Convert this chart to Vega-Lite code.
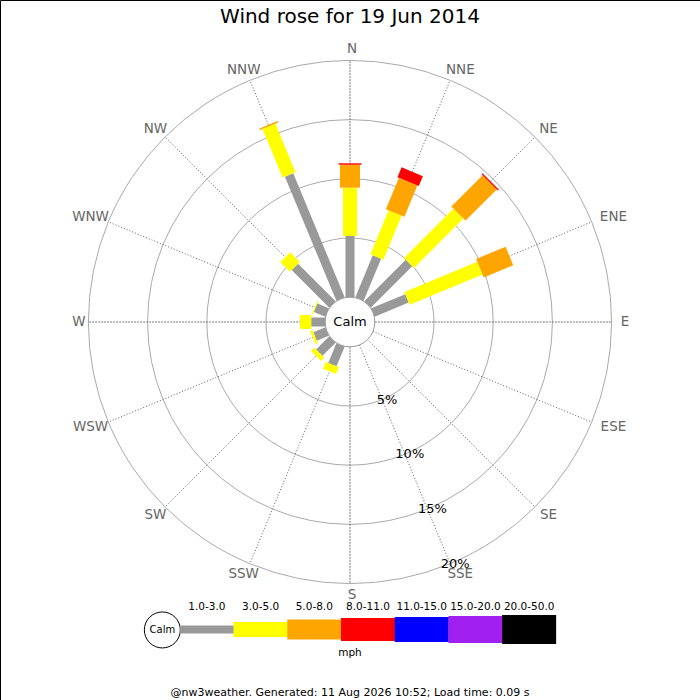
{
  "$schema": "https://vega.github.io/schema/vega-lite/v6.json",
  "description": "Wind rose for 19 Jun 2014, frequency (%) by direction and speed band (mph).",
  "width": 700,
  "height": 700,
  "autosize": {"type": "none"},
  "padding": 0,
  "datasets": {
    "dirs": [
      {"dir": "N", "deg": 0}, {"dir": "NNE", "deg": 22.5}, {"dir": "NE", "deg": 45}, {"dir": "ENE", "deg": 67.5},
      {"dir": "E", "deg": 90}, {"dir": "ESE", "deg": 112.5}, {"dir": "SE", "deg": 135}, {"dir": "SSE", "deg": 157.5},
      {"dir": "S", "deg": 180}, {"dir": "SSW", "deg": 202.5}, {"dir": "SW", "deg": 225}, {"dir": "WSW", "deg": 247.5},
      {"dir": "W", "deg": 270}, {"dir": "WNW", "deg": 292.5}, {"dir": "NW", "deg": 315}, {"dir": "NNW", "deg": 337.5}
    ],
    "winds": [
      {"dir": "N", "deg": 0, "band": "1.0-3.0", "pct": 5.17},
      {"dir": "N", "deg": 0, "band": "3.0-5.0", "pct": 4.08},
      {"dir": "N", "deg": 0, "band": "5.0-8.0", "pct": 1.94},
      {"dir": "N", "deg": 0, "band": "8.0-11.0", "pct": 0.12},
      {"dir": "NNE", "deg": 22.5, "band": "1.0-3.0", "pct": 3.85},
      {"dir": "NNE", "deg": 22.5, "band": "3.0-5.0", "pct": 4.02},
      {"dir": "NNE", "deg": 22.5, "band": "5.0-8.0", "pct": 2.86},
      {"dir": "NNE", "deg": 22.5, "band": "8.0-11.0", "pct": 0.91},
      {"dir": "NE", "deg": 45, "band": "1.0-3.0", "pct": 4.95},
      {"dir": "NE", "deg": 45, "band": "3.0-5.0", "pct": 5.91},
      {"dir": "NE", "deg": 45, "band": "5.0-8.0", "pct": 3.73},
      {"dir": "NE", "deg": 45, "band": "8.0-11.0", "pct": 0.11},
      {"dir": "ENE", "deg": 67.5, "band": "1.0-3.0", "pct": 3.12},
      {"dir": "ENE", "deg": 67.5, "band": "3.0-5.0", "pct": 6.67},
      {"dir": "ENE", "deg": 67.5, "band": "5.0-8.0", "pct": 2.69},
      {"dir": "SSW", "deg": 202.5, "band": "1.0-3.0", "pct": 1.8},
      {"dir": "SSW", "deg": 202.5, "band": "3.0-5.0", "pct": 0.62},
      {"dir": "SW", "deg": 225, "band": "1.0-3.0", "pct": 1.57},
      {"dir": "SW", "deg": 225, "band": "3.0-5.0", "pct": 0.4},
      {"dir": "WSW", "deg": 247.5, "band": "1.0-3.0", "pct": 1.1},
      {"dir": "WSW", "deg": 247.5, "band": "3.0-5.0", "pct": 0.22},
      {"dir": "W", "deg": 270, "band": "1.0-3.0", "pct": 1.18},
      {"dir": "W", "deg": 270, "band": "3.0-5.0", "pct": 0.95},
      {"dir": "WNW", "deg": 292.5, "band": "1.0-3.0", "pct": 1.05},
      {"dir": "WNW", "deg": 292.5, "band": "3.0-5.0", "pct": 0.09},
      {"dir": "NW", "deg": 315, "band": "1.0-3.0", "pct": 4.49},
      {"dir": "NW", "deg": 315, "band": "3.0-5.0", "pct": 1.16},
      {"dir": "NNW", "deg": 337.5, "band": "1.0-3.0", "pct": 11.35},
      {"dir": "NNW", "deg": 337.5, "band": "3.0-5.0", "pct": 4.45},
      {"dir": "NNW", "deg": 337.5, "band": "5.0-8.0", "pct": 0.13}
    ],
    "rings": [{"pct": 5}, {"pct": 10}, {"pct": 15}, {"pct": 20}],
    "bands": [
      {"band": "1.0-3.0"}, {"band": "3.0-5.0"}, {"band": "5.0-8.0"}, {"band": "8.0-11.0"},
      {"band": "11.0-15.0"}, {"band": "15.0-20.0"}, {"band": "20.0-50.0"}
    ]
  },
  "layer": [
    {
      "layer": [
        {
          "data": {"name": "rings"},
          "transform": [{"calculate": "datum.pct + 2.095", "as": "rr"}],
          "mark": {"type": "point", "shape": "circle", "filled": false, "color": "#aaaaaa", "strokeWidth": 1, "opacity": 1},
          "encoding": {
            "x": {"datum": 0, "type": "quantitative", "scale": {"domain": [-29.561, 29.561], "nice": false, "zero": false}},
            "y": {"datum": 0, "type": "quantitative", "scale": {"domain": [-31.926, 27.196], "nice": false, "zero": false}},
            "size": {"field": "rr", "type": "quantitative", "legend": null, "scale": {"type": "pow", "exponent": 2, "domain": [0, 29.561], "range": [0, 490000]}}
          }
        },
        {
          "data": {"name": "dirs"},
          "transform": [
            {"filter": "datum.deg % 90 !== 0"},
            {"calculate": "2.095 * sin(datum.deg * PI / 180)", "as": "xa"},
            {"calculate": "2.095 * cos(datum.deg * PI / 180)", "as": "ya"},
            {"calculate": "22.095 * sin(datum.deg * PI / 180)", "as": "xb"},
            {"calculate": "22.095 * cos(datum.deg * PI / 180)", "as": "yb"}
          ],
          "mark": {"type": "rule", "color": "#333333", "strokeWidth": 0.8, "strokeDash": [1, 2]},
          "encoding": {
            "x": {"field": "xa", "type": "quantitative"},
            "y": {"field": "ya", "type": "quantitative"},
            "x2": {"field": "xb"},
            "y2": {"field": "yb"}
          }
        },
        {
          "data": {"name": "dirs"},
          "transform": [
            {"filter": "datum.deg % 90 === 0"},
            {"calculate": "2.095 * sin(datum.deg * PI / 180)", "as": "xa"},
            {"calculate": "2.095 * cos(datum.deg * PI / 180)", "as": "ya"},
            {"calculate": "22.095 * sin(datum.deg * PI / 180)", "as": "xb"},
            {"calculate": "22.095 * cos(datum.deg * PI / 180)", "as": "yb"}
          ],
          "mark": {"type": "rule", "color": "#777777", "strokeWidth": 1, "strokeDash": [2, 1]},
          "encoding": {
            "x": {"field": "xa", "type": "quantitative"},
            "y": {"field": "ya", "type": "quantitative"},
            "x2": {"field": "xb"},
            "y2": {"field": "yb"}
          }
        },
        {
          "data": {"name": "winds"},
          "transform": [
            {"window": [{"op": "sum", "field": "pct", "as": "cum"}], "groupby": ["dir"]},
            {"calculate": "(datum.cum - datum.pct + 2.095) * sin(datum.deg * PI / 180)", "as": "xa"},
            {"calculate": "(datum.cum - datum.pct + 2.095) * cos(datum.deg * PI / 180)", "as": "ya"},
            {"calculate": "(datum.cum + 2.095) * sin(datum.deg * PI / 180)", "as": "xb"},
            {"calculate": "(datum.cum + 2.095) * cos(datum.deg * PI / 180)", "as": "yb"}
          ],
          "mark": {"type": "rule", "strokeCap": "butt"},
          "encoding": {
            "x": {"field": "xa", "type": "quantitative"},
            "y": {"field": "ya", "type": "quantitative"},
            "x2": {"field": "xb"},
            "y2": {"field": "yb"},
            "color": {
              "field": "band", "type": "nominal", "legend": null,
              "scale": {
                "domain": ["1.0-3.0", "3.0-5.0", "5.0-8.0", "8.0-11.0", "11.0-15.0", "15.0-20.0", "20.0-50.0"],
                "range": ["#999999", "#ffff00", "#ffa500", "#ff0000", "#0000ff", "#a020f0", "#000000"]
              }
            },
            "strokeWidth": {
              "field": "band", "type": "ordinal", "legend": null,
              "scale": {
                "type": "ordinal",
                "domain": ["1.0-3.0", "3.0-5.0", "5.0-8.0", "8.0-11.0", "11.0-15.0", "15.0-20.0", "20.0-50.0"],
                "range": [9, 14, 20, 23, 25, 27, 29]
              }
            }
          }
        },
        {
          "data": {"values": [{"rr": 2.095}]},
          "mark": {"type": "point", "shape": "circle", "filled": true, "fill": "white", "stroke": "#999999", "strokeWidth": 1, "opacity": 1},
          "encoding": {
            "x": {"datum": 0, "type": "quantitative"},
            "y": {"datum": 0, "type": "quantitative"},
            "size": {"field": "rr", "type": "quantitative", "legend": null}
          }
        },
        {
          "data": {"values": [{}]},
          "mark": {"type": "text", "text": "Calm", "fontSize": 13, "color": "#000000", "baseline": "middle"},
          "encoding": {
            "x": {"datum": 0, "type": "quantitative"},
            "y": {"datum": 0, "type": "quantitative"}
          }
        },
        {
          "data": {"name": "dirs"},
          "transform": [
            {"calculate": "(22.64 + 0.42 * length(datum.dir)) * sin(datum.deg * PI / 180)", "as": "lx"},
            {"calculate": "23.08 * cos(datum.deg * PI / 180)", "as": "ly"}
          ],
          "mark": {"type": "text", "fontSize": 13.5, "color": "#666666", "baseline": "middle", "dx": 2},
          "encoding": {
            "x": {"field": "lx", "type": "quantitative"},
            "y": {"field": "ly", "type": "quantitative"},
            "text": {"field": "dir"}
          }
        },
        {
          "data": {"name": "rings"},
          "transform": [
            {"calculate": "(datum.pct + 2.095) * sin(157.5 * PI / 180)", "as": "lx"},
            {"calculate": "(datum.pct + 2.095) * cos(157.5 * PI / 180)", "as": "ly"},
            {"calculate": "datum.pct + '%'", "as": "label"}
          ],
          "mark": {"type": "text", "fontSize": 13, "color": "#000000", "baseline": "middle", "dx": 5},
          "encoding": {
            "x": {"field": "lx", "type": "quantitative"},
            "y": {"field": "ly", "type": "quantitative"},
            "text": {"field": "label"}
          }
        },
        {
          "data": {"values": [{}]},
          "mark": {"type": "text", "text": "Wind rose for 19 Jun 2014", "fontSize": 20, "color": "#000000", "baseline": "middle"},
          "encoding": {
            "x": {"datum": 0, "type": "quantitative"},
            "y": {"datum": 25.76, "type": "quantitative"}
          }
        },
        {
          "data": {"values": [{}]},
          "mark": {"type": "point", "shape": "circle", "size": 1296, "filled": true, "fill": "white", "stroke": "#000000", "strokeWidth": 1, "opacity": 1},
          "encoding": {
            "x": {"datum": -15.85, "type": "quantitative"},
            "y": {"datum": -26.01, "type": "quantitative"}
          }
        },
        {
          "data": {"values": [{}]},
          "mark": {"type": "text", "text": "Calm", "fontSize": 10, "color": "#000000", "baseline": "middle"},
          "encoding": {
            "x": {"datum": -15.85, "type": "quantitative"},
            "y": {"datum": -26.01, "type": "quantitative"}
          }
        },
        {
          "data": {"values": [{}]},
          "mark": {"type": "text", "text": "mph", "fontSize": 10.5, "color": "#000000", "baseline": "middle"},
          "encoding": {
            "x": {"datum": 0, "type": "quantitative"},
            "y": {"datum": -27.96, "type": "quantitative"}
          }
        },
        {
          "data": {"values": [{}]},
          "mark": {"type": "text", "text": "@nw3weather. Generated: 11 Aug 2026 10:52; Load time: 0.09 s", "fontSize": 11, "color": "#000000", "baseline": "middle"},
          "encoding": {
            "x": {"datum": 0, "type": "quantitative"},
            "y": {"datum": -31.31, "type": "quantitative"}
          }
        }
      ]
    },
    {
      "data": {"name": "bands"},
      "layer": [
        {
          "mark": {"type": "tick", "orient": "vertical", "thickness": 54, "opacity": 1},
          "encoding": {
            "x": {
              "field": "band", "type": "nominal",
              "scale": {
                "type": "band",
                "domain": ["1.0-3.0", "3.0-5.0", "5.0-8.0", "8.0-11.0", "11.0-15.0", "15.0-20.0", "20.0-50.0"],
                "range": [180, 556], "paddingInner": 0, "paddingOuter": 0
              }
            },
            "y": {"datum": -25.97, "type": "quantitative", "scale": {"domain": [-31.926, 27.196], "nice": false, "zero": false}},
            "color": {"field": "band", "type": "nominal", "legend": null},
            "size": {
              "field": "band", "type": "ordinal", "legend": null,
              "scale": {
                "type": "ordinal",
                "domain": ["1.0-3.0", "3.0-5.0", "5.0-8.0", "8.0-11.0", "11.0-15.0", "15.0-20.0", "20.0-50.0"],
                "range": [8, 15, 20, 23, 25, 27, 29]
              }
            }
          }
        },
        {
          "mark": {"type": "text", "fontSize": 10.5, "color": "#000000", "baseline": "middle"},
          "encoding": {
            "x": {"field": "band", "type": "nominal"},
            "y": {"datum": -24.05, "type": "quantitative"},
            "text": {"field": "band"}
          }
        }
      ]
    }
  ],
  "resolve": {"scale": {"x": "independent", "size": "independent"}},
  "config": {
    "view": {"stroke": "#000000", "strokeWidth": 1},
    "axis": {"disable": true},
    "text": {"font": "DejaVu Sans"}
  }
}
